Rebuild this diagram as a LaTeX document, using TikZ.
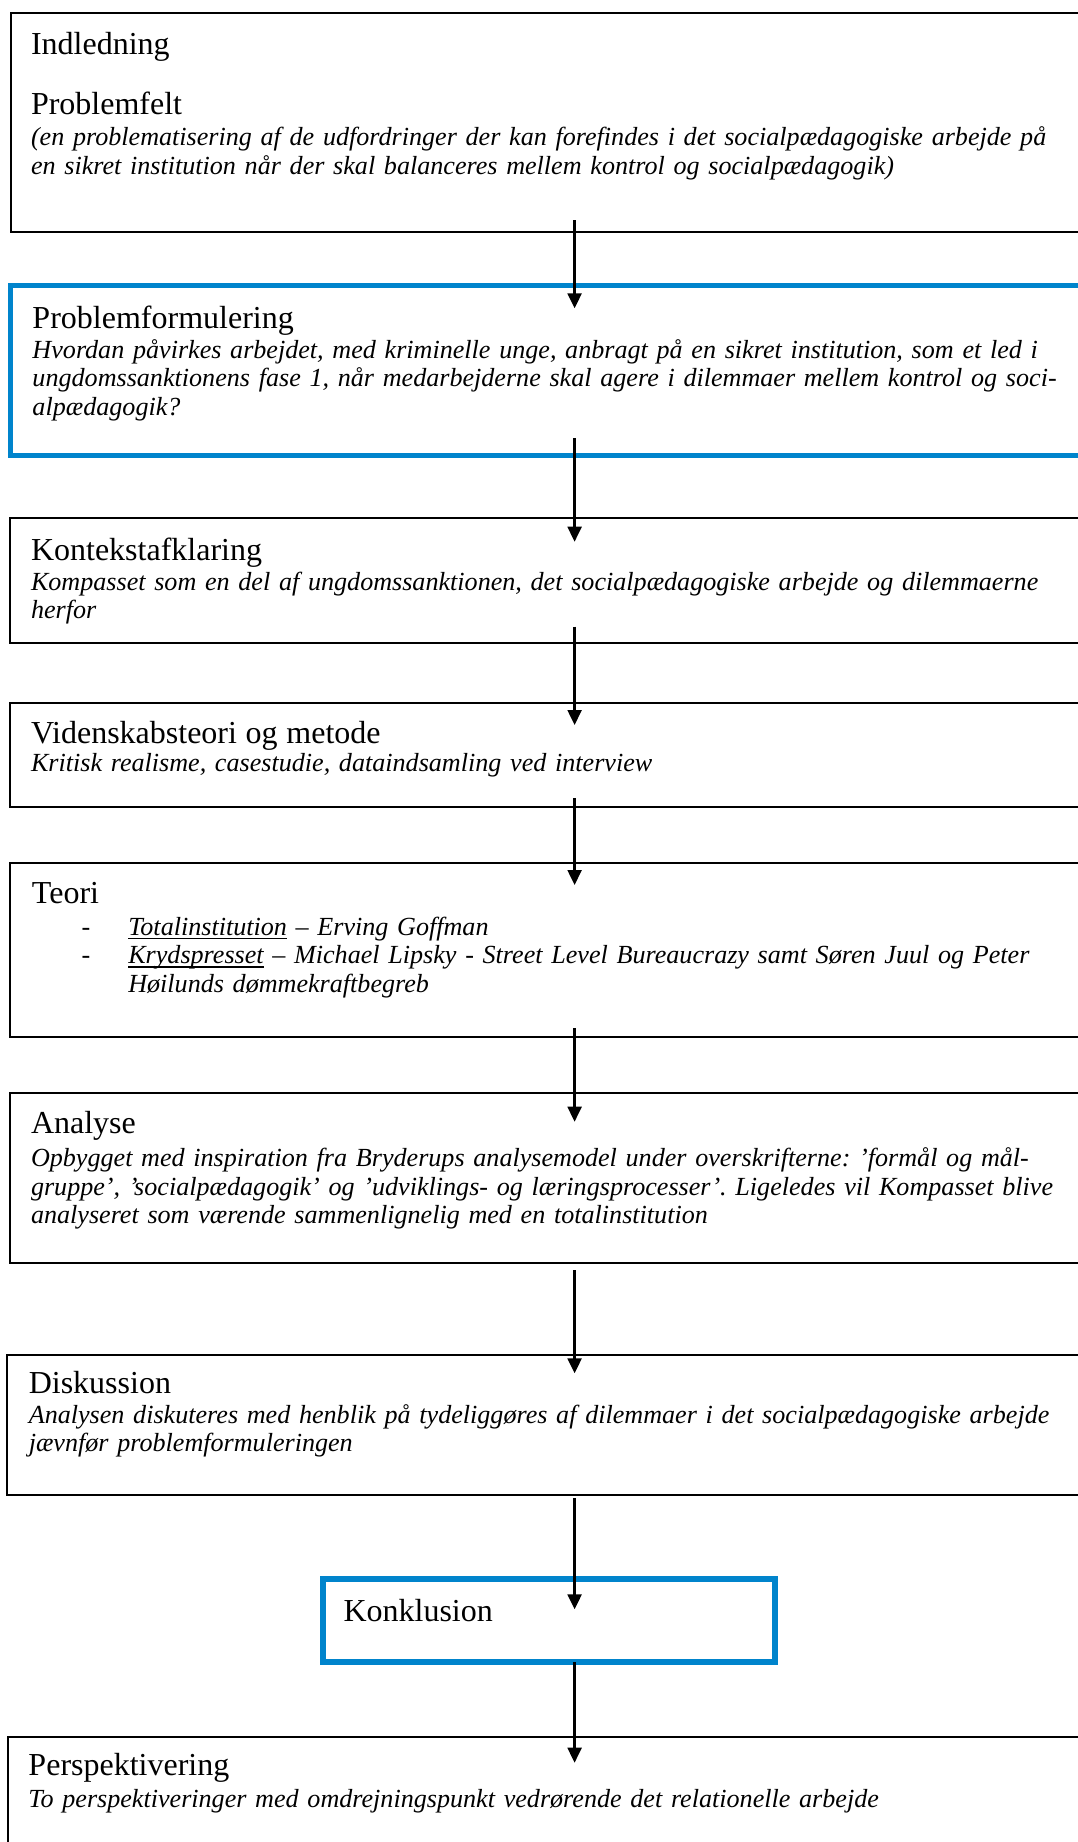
\documentclass[tikz,border=0pt]{standalone}
\usepackage{fontspec}
\setmainfont{Liberation Serif}
\usetikzlibrary{arrows.meta,calc}

\definecolor{wordblue}{RGB}{0,132,204}
\newlength\pix
\setlength\pix{0.45pt}
\newcommand\hdfont{\fontsize{14.4pt}{12.9pt}\selectfont\upshape}
\newcommand\bdfont{\fontsize{11.75pt}{12.9pt}\selectfont\itshape\frenchspacing}
\newcommand\undl[1]{\setbox0\hbox{#1}\rlap{\rule[-1.6pt]{\wd0}{0.5pt}}\box0\relax}
\newcommand\dash{\makebox[96.3\pix][l]{\hspace*{49.7\pix}\upshape -}}

\tikzset{
  box/.style={draw=black, line width=1.8\pix, anchor=north west, inner sep=0pt, outer sep=0pt},
  bluebox/.style={box, draw=wordblue, line width=5.5\pix},
  txt/.style={anchor=base west, inner sep=0pt, outer sep=0pt, text width=1100\pix, align=left, font=\bdfont},
  arr/.style={line width=2.3\pix, -{Triangle[length=6.75pt, width=6.3pt]}}
}

\begin{document}
\begin{tikzpicture}[x=0.45pt, y=-0.45pt]
\useasboundingbox (0,0) rectangle (1078,1842);
\clip (0,0) rectangle (1078,1842);
\coordinate (mid) at (574.6,0);

% boxes
\node[box, minimum width=1089\pix, minimum height=218.7\pix] (indl) at (11,13.3) {};
\node[bluebox, minimum width=1090\pix, minimum height=169.8\pix] (probl) at (10.5,285.5) {};
\node[box, minimum width=1090\pix, minimum height=124.4\pix] (kontekst) at (10,518.3) {};
\node[box, minimum width=1090\pix, minimum height=103.4\pix] (metode) at (10,703.3) {};
\node[box, minimum width=1090\pix, minimum height=174\pix] (teori) at (10,863.3) {};
\node[box, minimum width=1090\pix, minimum height=170\pix] (analyse) at (10,1093.3) {};
\node[box, minimum width=1093\pix, minimum height=140\pix] (disk) at (7.3,1355) {};
\node[bluebox, minimum width=452\pix, minimum height=83\pix] (konkl) at (323,1579) {};
\node[box, minimum width=1092\pix, minimum height=200\pix] (persp) at (8,1736.7) {};

% texts
\node[txt] (indl-t) at (31,54.3) {{\hdfont Indledning}\\[12.9pt]
  {\hdfont Problemfelt}\\[1pt]
  (en problematisering af de udfordringer der kan forefindes i det socialpædagogiske arbejde på\\
  en sikret institution når der skal balanceres mellem kontrol og socialpædagogik)};
\node[txt] (probl-t) at (32.5,328.3) {{\hdfont Problemformulering}\\[0.6pt]
  Hvordan påvirkes arbejdet, med kriminelle unge, anbragt på en sikret institution, som et led i\\
  ungdomssanktionens fase 1, når medarbejderne skal agere i dilemmaer mellem kontrol og soci-\\
  alpædagogik?};
\node[txt] (kontekst-t) at (31,560) {{\hdfont Kontekstafklaring}\\[0.6pt]
  Kompasset som en del af ungdomssanktionen, det socialpædagogiske arbejde og dilemmaerne\\
  herfor};
\node[txt] (metode-t) at (31,743.3) {{\hdfont Videnskabsteori og metode}\\
  Kritisk realisme, casestudie, dataindsamling ved interview};
\node[txt] (teori-t) at (32,903.3) {{\hdfont Teori}\\[1.5pt]
  \dash\undl{Totalinstitution} – Erving Goffman\\
  \dash\undl{Krydspresset} – Michael Lipsky {\upshape -} Street Level Bureaucrazy samt Søren Juul og Peter\\
  \hspace*{96.3\pix}Høilunds dømmekraftbegreb};
\node[txt] (analyse-t) at (31,1133.3) {{\hdfont Analyse}\\[2pt]
  Opbygget med inspiration fra Bryderups analysemodel under overskrifterne: ’formål og mål-\\
  gruppe’, ’socialpædagogik’ og ’udviklings- og læringsprocesser’. Ligeledes vil Kompasset blive\\
  analyseret som værende sammenlignelig med en totalinstitution};
\node[txt] (disk-t) at (28.8,1393) {{\hdfont Diskussion}\\[0.6pt]
  Analysen diskuteres med henblik på tydeliggøres af dilemmaer i det socialpædagogiske arbejde\\
  jævnfør problemformuleringen};
\node[txt] (konkl-t) at (343.5,1621) {{\hdfont Konklusion}};
\node[txt] (persp-t) at (28.5,1775) {{\hdfont Perspektivering}\\[1.9pt]
  To perspektiveringer med omdrejningspunkt vedrørende det relationelle arbejde};

% arrows
\draw[arr] ($(indl.south -| mid)+(0,-12)$) -- ($(probl.north -| mid)+(0,22.8)$);
\draw[arr] ($(probl.south -| mid)+(0,-17)$) -- ($(kontekst.north -| mid)+(0,23.4)$);
\draw[arr] ($(kontekst.south -| mid)+(0,-16)$) -- ($(metode.north -| mid)+(0,21.7)$);
\draw[arr] ($(metode.south -| mid)+(0,-8.4)$) -- ($(teori.north -| mid)+(0,21.7)$);
\draw[arr] ($(teori.south -| mid)+(0,-9)$) -- ($(analyse.north -| mid)+(0,28.4)$);
\draw[arr] ($(analyse.south -| mid)+(0,6.7)$) -- ($(disk.north -| mid)+(0,18.3)$);
\draw[arr] ($(disk.south -| mid)+(0,3.3)$) -- ($(konkl.north -| mid)+(0,30.3)$);
\draw[arr] (konkl.south -| mid) -- ($(persp.north -| mid)+(0,26)$);
\end{tikzpicture}
\end{document}
